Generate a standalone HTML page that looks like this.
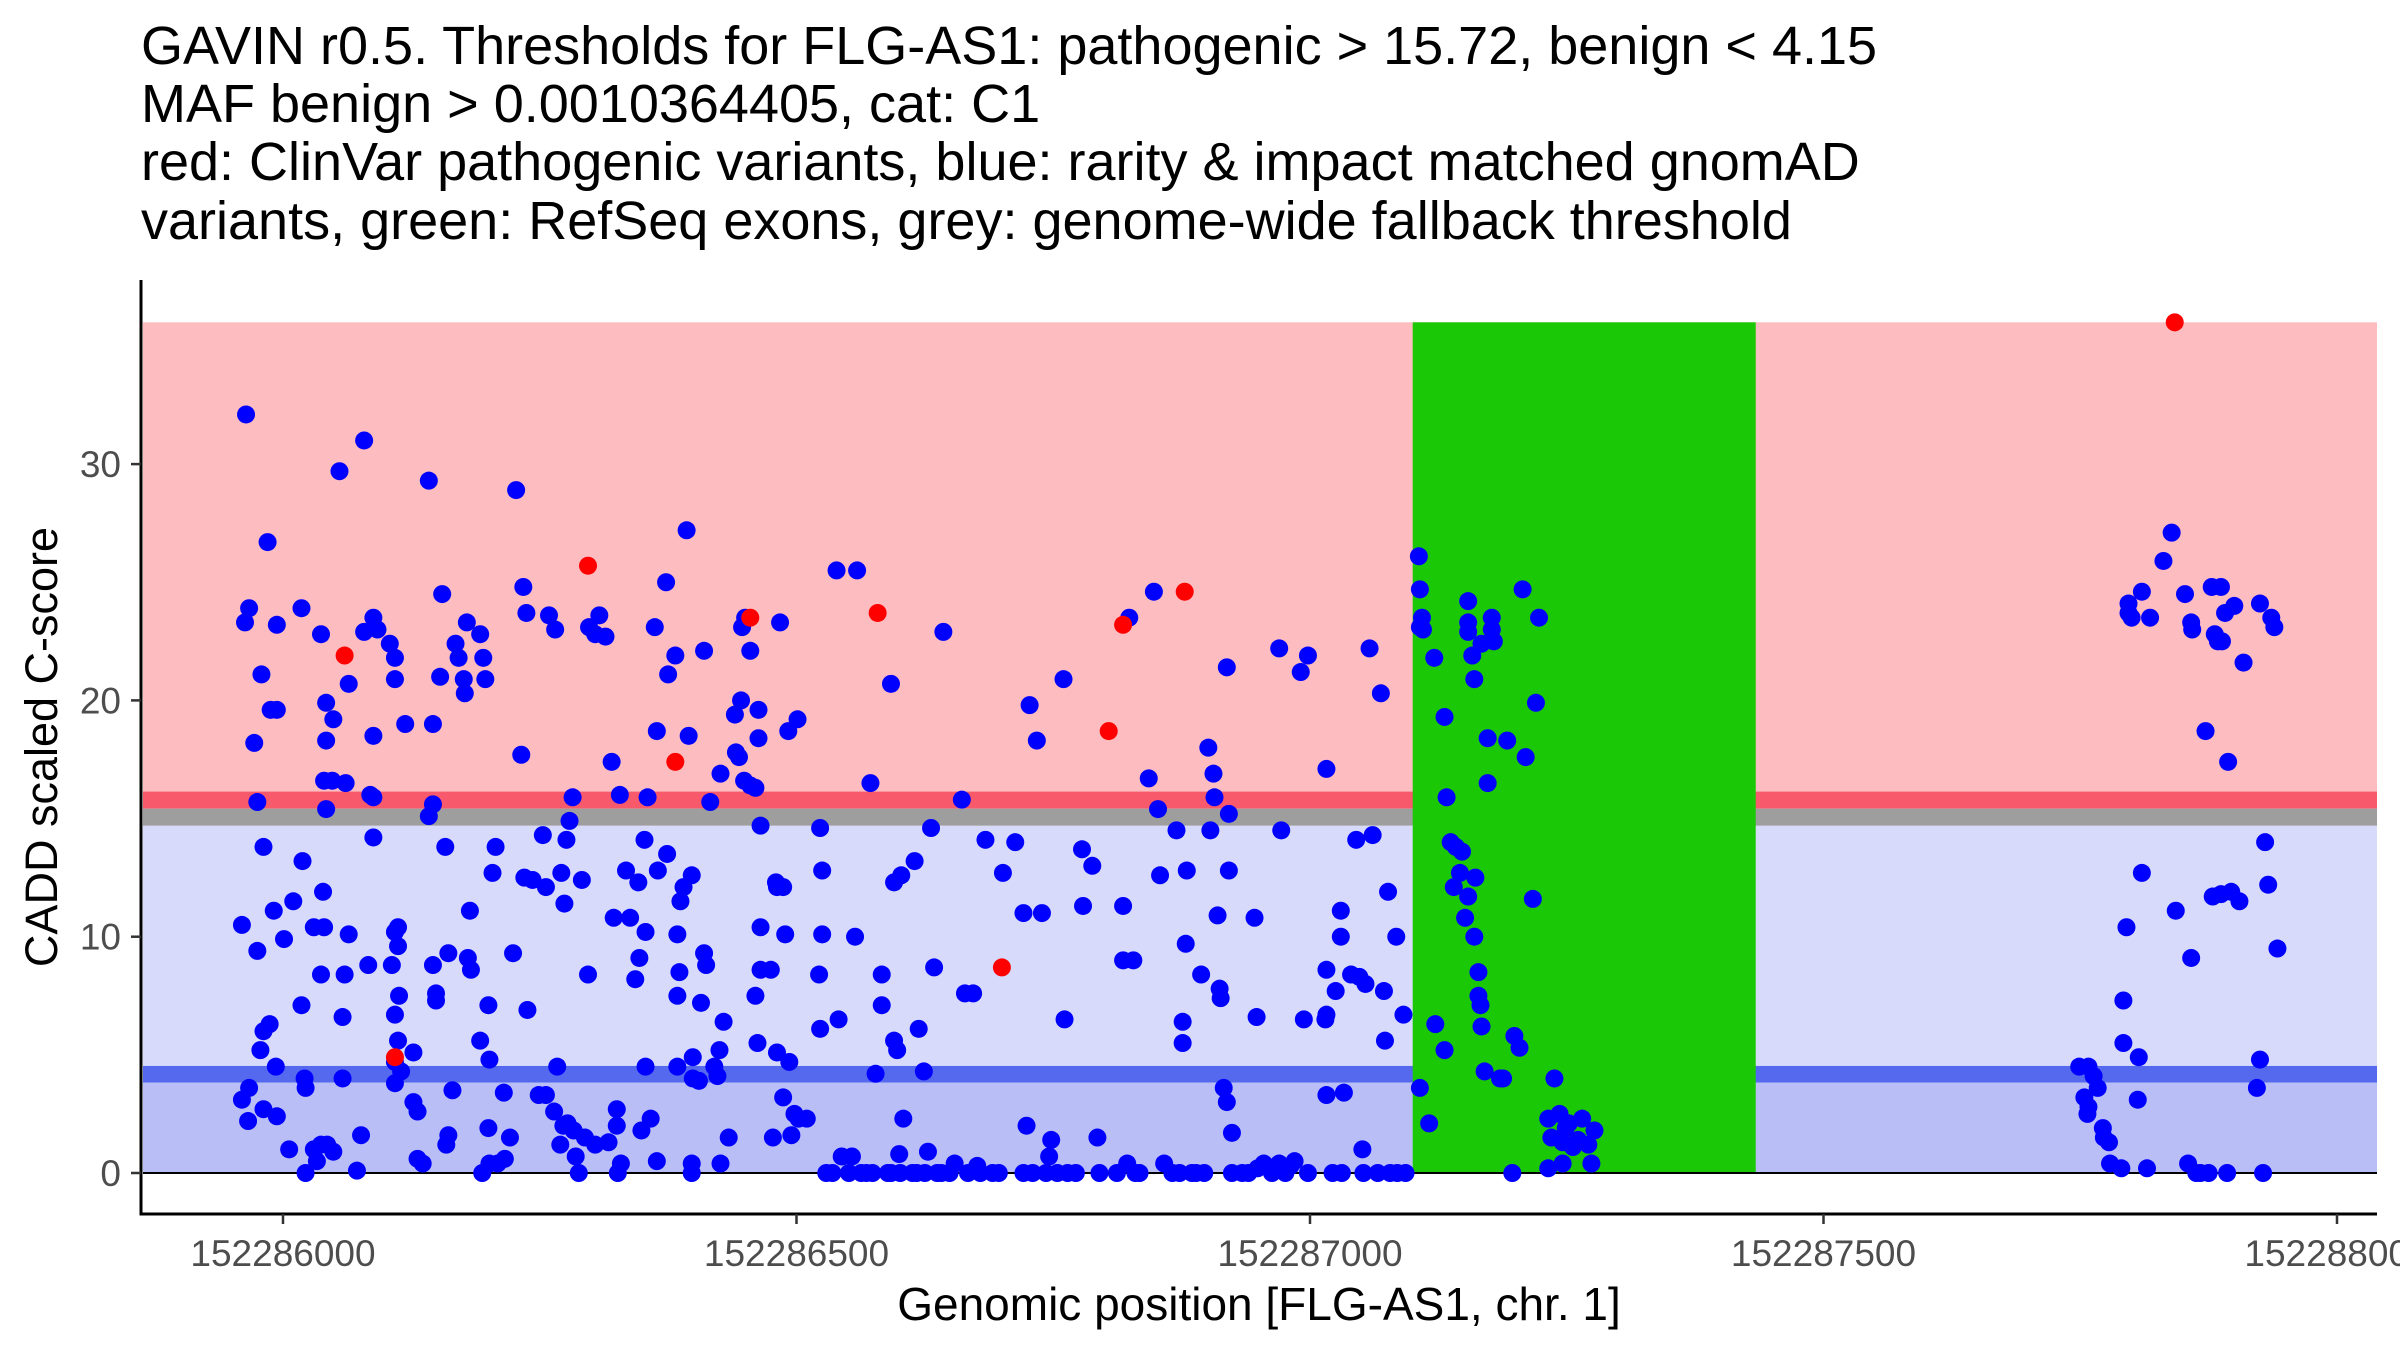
<!DOCTYPE html>
<html><head><meta charset="utf-8">
<style>
html,body{margin:0;padding:0;background:#fff;overflow:hidden;width:2400px;height:1350px}
svg{display:block;font-family:"Liberation Sans",Arial,sans-serif}
</style></head>
<body>
<svg id="chart" width="2400" height="1350" viewBox="0 0 2400 1350" xmlns="http://www.w3.org/2000/svg">
<g font-size="54" fill="#000">
<text x="141" y="64">GAVIN r0.5. Thresholds for FLG-AS1: pathogenic &gt; 15.72, benign &lt; 4.15</text>
<text x="141" y="122">MAF benign &gt; 0.0010364405, cat: C1</text>
<text x="141" y="180">red: ClinVar pathogenic variants, blue: rarity &amp; impact matched gnomAD</text>
<text x="141" y="239">variants, green: RefSeq exons, grey: genome-wide fallback threshold</text>
</g>
<g id="bands"></g>
<g id="points"></g>
<g id="axes"></g>
<text x="1259" y="1320" font-size="46" text-anchor="middle">Genomic position [FLG-AS1, chr. 1]</text>
<text transform="translate(57,747) rotate(-90)" font-size="45" text-anchor="middle">CADD scaled C-score</text>
</svg>
<script>
const BASE = 152286000;
const xTicks = [152286000, 152286500, 152287000, 152287500, 152288000];
const yTicks = [0, 10, 20, 30];
const pathogenicThr = 15.72;
const benignThr = 4.15;
const fallbackThr = 15.0;
const maxScore = 36;
const exonStart = 152287100, exonEnd = 152287434;
const redOffsets = [60,109,297,382,455,579,700,804,818,878,1842];
const redScores = [21.9,4.9,25.7,17.4,23.5,23.7,8.7,18.7,23.2,24.6,36.0];
const blueOffsets = [-36,-40,-37,-33,-28,-25,-25,-19,-21,-15,-12,-6,-6,-9,-19,-13,-7,-22,-40,-33,-34,-19,-6,6,1,10,18,19,18,21,22,30,22,37,33,43,49,40,30,37,39,42,42,40,42,37,48,55,49,64,61,72,60,58,64,58,79,76,79,83,88,88,88,88,85,92,104,109,109,112,109,112,106,113,109,112,109,115,109,119,127,127,131,136,131,142,146,146,142,146,149,149,155,153,158,161,159,161,165,168,171,176,179,177,180,183,182,192,195,197,192,201,200,200,207,204,194,201,209,215,216,221,224,227,232,234,237,235,238,243,249,253,256,256,259,265,264,267,270,273,274,271,276,279,282,277,283,285,288,291,294,297,298,304,308,304,314,317,320,322,325,325,326,328,329,334,338,343,347,346,349,352,353,353,355,358,364,362,364,365,374,373,375,382,384,384,384,387,386,390,393,395,398,399,399,405,398,398,407,410,412,410,416,420,423,425,426,429,434,426,440,441,446,447,450,444,449,455,455,460,463,463,462,465,460,465,465,475,477,480,481,484,487,489,481,487,492,495,498,493,501,502,510,523,522,523,525,525,529,535,539,541,544,551,554,559,557,563,568,572,574,583,577,583,589,592,595,595,598,600,601,592,604,602,613,615,617,619,624,625,628,631,634,637,641,643,649,654,661,664,667,672,676,679,684,691,697,701,713,721,721,724,727,730,734,739,743,746,748,754,760,761,764,772,778,779,788,793,795,812,824,818,818,822,828,830,834,843,848,852,854,858,866,870,873,876,876,879,880,885,889,894,897,901,903,906,907,910,912,913,916,919,919,921,921,924,924,934,940,946,948,949,955,963,970,970,972,976,981,985,991,994,998,998,1015,1016,1016,1016,1016,1022,1025,1030,1030,1031,1033,1040,1045,1048,1051,1052,1054,1058,1061,1066,1069,1072,1073,1076,1078,1084,1085,1091,1093,1106,1107,1109,1107,1110,1107,1116,1121,1122,1131,1131,1133,1137,1140,1142,1146,1148,1151,1154,1154,1154,1154,1158,1160,1160,1161,1164,1166,1164,1167,1170,1167,1173,1173,1177,1177,1179,1185,1188,1192,1197,1199,1204,1207,1210,1217,1220,1223,1232,1235,1232,1238,1243,1246,1249,1246,1252,1256,1261,1265,1271,1277,1274,1749,1758,1754,1757,1758,1763,1767,1772,1773,1778,1779,1790,1792,1792,1795,1797,1797,1800,1806,1807,1810,1810,1815,1818,1831,1839,1843,1852,1858,1855,1858,1859,1863,1867,1872,1875,1878,1881,1879,1884,1887,1887,1888,1891,1894,1893,1897,1900,1905,1909,1922,1925,1925,1928,1930,1933,1936,1939,1942];
const blueScores = [32.1,10.5,23.3,23.9,18.2,15.7,9.4,13.8,21.1,26.7,19.6,19.6,23.2,11.1,6.0,6.3,4.5,5.2,3.1,3.6,2.2,2.7,2.4,1.0,9.9,11.5,23.9,13.2,7.1,4.0,3.6,1.0,0,1.2,0.5,1.2,0.9,10.4,10.4,8.4,11.9,19.9,18.3,16.6,15.4,22.8,16.6,29.7,19.2,20.7,16.5,0.1,8.4,6.6,10.1,4.0,31.0,1.6,22.9,8.8,23.5,18.5,15.9,14.2,16.0,23.0,22.4,21.8,20.9,10.4,10.2,9.6,8.8,7.5,6.7,5.6,4.7,4.3,3.8,19.0,5.1,3.0,2.6,0.4,0.6,29.3,15.6,19.0,15.1,8.8,7.3,7.6,24.5,21.0,13.8,9.3,1.2,1.6,3.5,22.4,21.8,20.9,23.3,20.3,9.1,8.6,11.1,22.8,21.8,20.9,5.6,4.8,7.1,1.9,13.8,12.7,0,0.4,0.4,3.4,0.6,1.5,9.3,28.9,17.7,24.8,23.7,12.5,6.9,12.4,3.3,14.3,3.3,12.1,23.6,23.0,2.6,4.5,1.2,2.0,11.4,12.7,14.1,14.9,15.9,2.1,1.8,0.7,0,12.4,1.5,8.4,23.1,22.8,23.6,1.2,22.7,1.3,17.4,10.8,2.0,2.7,0,16.0,0.4,12.8,10.8,8.2,9.1,12.3,1.8,14.1,10.2,4.5,15.9,2.3,0.5,23.1,18.7,12.8,13.5,25.0,21.1,21.9,10.1,7.5,4.5,11.5,8.5,12.1,27.2,18.5,12.6,4.9,4.0,3.9,0.4,0,7.2,9.3,8.8,22.1,15.7,4.5,4.1,5.2,16.9,6.4,1.5,0.4,19.4,17.8,20.0,23.1,23.5,17.6,16.6,22.1,16.4,7.5,18.4,19.6,5.5,8.6,16.3,14.7,10.4,8.6,1.5,12.3,12.1,23.3,12.1,10.1,5.1,3.2,18.7,1.6,2.5,4.7,19.2,2.3,2.3,14.6,8.4,6.1,10.1,12.8,0,0,25.5,6.5,0.7,0,0.7,25.5,10.0,0,0,16.5,0,8.4,4.2,7.1,0,20.7,5.6,12.3,5.2,0.8,0,0,2.3,12.6,0,13.2,0,6.1,4.3,0,0.9,14.6,8.7,0,0,22.9,0,0.4,15.8,7.6,0,7.6,0.3,0,14.1,0,0,12.7,14.0,11.0,0,2.0,19.8,0,18.3,11.0,0,0.7,1.4,0,20.9,6.5,0,0,13.7,11.3,13.0,1.5,0,0,23.5,11.3,9.0,0.4,9.0,0,0,16.7,24.6,15.4,12.6,0.4,0,14.5,0,6.4,5.5,9.7,12.8,0,0,8.4,0,18.0,14.5,16.9,15.9,10.9,7.8,7.4,3.6,21.4,3.0,12.8,15.2,1.7,0,0,0,10.8,6.6,0.2,0.4,0,22.2,0.4,14.5,0,0.3,0.5,21.2,6.5,21.9,0,6.5,3.3,17.1,8.6,6.7,0,7.7,10.0,11.1,0,3.4,8.4,14.1,8.3,1.0,0,8.0,22.2,14.3,0,20.3,7.7,5.6,11.9,0,10.0,0,6.7,0,26.1,24.7,23.5,23.1,23.0,3.6,2.1,21.8,6.3,19.3,5.2,15.9,14.0,12.1,13.8,12.7,13.6,10.8,11.7,24.2,23.3,22.9,21.9,20.9,10.0,12.5,8.5,7.1,7.5,6.2,4.3,22.4,18.4,16.5,23.5,23.0,22.5,4.0,4.0,18.3,0,5.8,5.3,24.7,17.6,11.6,19.9,23.5,2.3,1.5,0.2,4.0,2.5,1.3,1.9,0.4,2.1,1.1,1.4,2.3,1.2,1.8,0.4,4.5,4.5,3.2,2.5,2.8,4.1,3.6,1.9,1.5,1.3,0.4,0.2,7.3,5.5,10.4,24.1,23.7,23.5,3.1,4.9,12.7,24.6,0.2,23.5,25.9,27.1,11.1,24.5,9.1,0.4,23.3,23.0,0,0,18.7,0,24.8,22.8,11.7,22.5,24.8,11.8,22.5,23.7,17.4,0,11.9,24.0,11.5,21.6,3.6,4.8,24.1,0,14.0,12.2,23.5,23.1,9.5,10.2];

const NS = 'http://www.w3.org/2000/svg';
const PL = 141, PR = 2377, PB = 1214, PT = 280, BL = 143;
function xs(pos){ return 283 + (pos - BASE) * 1.027; }
function ys(v){ return 1173 - v * 23.63; }
function mk(tag, attrs, parent){ const e = document.createElementNS(NS, tag); for (const k in attrs) e.setAttribute(k, attrs[k]); parent.appendChild(e); return e; }

const bands = document.getElementById('bands');
function band(y1, y2, fill, name){
  const r = mk('rect', {x: BL, y: ys(y2), width: PR - BL, height: ys(y1) - ys(y2), fill: fill}, bands);
  
  
}
band(pathogenicThr, maxScore, '#FCBCC0', 'pathogenic-region');
band(benignThr, fallbackThr - 0.3, '#D7DAFA', 'vus-region');
band(0, benignThr, '#BABEF7', 'benign-region');
band(pathogenicThr - 0.3, pathogenicThr + 0.42, '#F8596B', 'pathogenic-threshold-line');
band(fallbackThr - 0.3, pathogenicThr - 0.3, '#9E9E9E', 'fallback-threshold-line');
band(benignThr - 0.32, benignThr + 0.38, '#5569EE', 'benign-threshold-line');
const ex = mk('rect', {x: xs(exonStart), y: ys(maxScore), width: xs(exonEnd) - xs(exonStart), height: ys(0) - ys(maxScore), fill: '#1AC805'}, bands);


const zl = mk('line', {x1: BL, x2: PR, y1: ys(0), y2: ys(0), stroke: '#000', 'stroke-width': 2}, bands);



const pts = document.getElementById('points');
for (let i = 0; i < blueOffsets.length; i++){
  const c = mk('circle', {cx: xs(BASE + blueOffsets[i]), cy: ys(blueScores[i]), r: 9, fill: '#0000FF'}, pts);
  
  
}
for (let i = 0; i < redOffsets.length; i++){
  const c = mk('circle', {cx: xs(BASE + redOffsets[i]), cy: ys(redScores[i]), r: 9, fill: '#FF0000'}, pts);
  
  
}

const ax = document.getElementById('axes');
const yl = mk('line', {x1: PL, x2: PL, y1: PT, y2: PB + 1.5, stroke: '#000', 'stroke-width': 3}, ax);


const xl = mk('line', {x1: PL - 1.5, x2: PR, y1: PB, y2: PB, stroke: '#000', 'stroke-width': 3}, ax);


yTicks.forEach(v => {
  const t = mk('line', {x1: PL - 10, x2: PL, y1: ys(v), y2: ys(v), stroke: '#333', 'stroke-width': 2.5}, ax);
  
  
  const l = mk('text', {x: PL - 20, y: ys(v) + 13, 'font-size': 37, fill: '#4D4D4D', 'text-anchor': 'end'}, ax);
  l.textContent = v;
  
  
});
xTicks.forEach(v => {
  const t = mk('line', {x1: xs(v), x2: xs(v), y1: PB, y2: PB + 10, stroke: '#333', 'stroke-width': 2.5}, ax);
  
  
  const l = mk('text', {x: xs(v), y: PB + 52, 'font-size': 37, fill: '#4D4D4D', 'text-anchor': 'middle'}, ax);
  l.textContent = v;
  
  
});
</script>
</body></html>
